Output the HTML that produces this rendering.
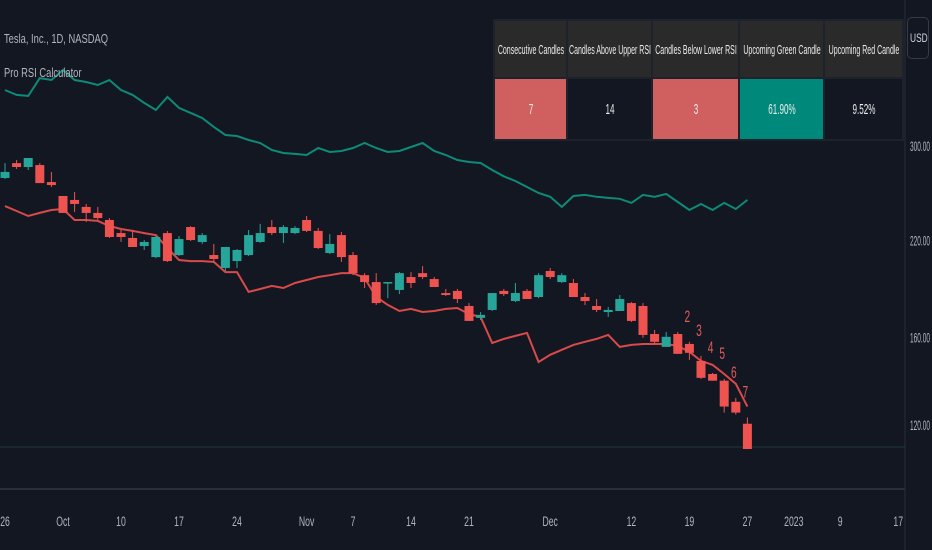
<!DOCTYPE html>
<html><head><meta charset="utf-8">
<style>
html,body{margin:0;padding:0;background:#131722;width:932px;height:550px;overflow:hidden;font-family:"Liberation Sans",sans-serif;}
#wrap{position:relative;width:932px;height:550px;overflow:hidden;}
svg{position:absolute;left:0;top:0;}
.nar{display:inline-block;transform:scaleX(0.72);transform-origin:left center;white-space:nowrap;}
.legend{position:absolute;left:4px;color:#b2b5be;font-size:13px;}
table{position:absolute;left:493px;top:19px;border-collapse:collapse;width:409px;height:122px;table-layout:fixed;}
td{border:2px solid #1e222d;color:#ececec;font-size:13px;text-align:center;padding:0;overflow:hidden;white-space:nowrap;}
td span{display:block;width:200%;margin-left:-50%;transform:scaleX(0.54);transform-origin:center center;}
.hd td{background:#2a2a2a;height:56px;}
#usd{position:absolute;left:907px;top:17px;width:20px;height:40px;border:1px solid #363a45;border-radius:5px;color:#d1d4dc;font-size:12px;}
#usd span{position:absolute;left:2px;top:13px;transform:scaleX(0.7);transform-origin:left top;}
</style></head><body>
<div id="wrap">
<svg id="chart" width="932" height="550"></svg>
<div class="legend" style="top:31px"><span class="nar">Tesla, Inc., 1D, NASDAQ</span></div>
<div class="legend" style="top:65px"><span class="nar">Pro RSI Calculator</span></div>
<table>
<colgroup><col style="width:73px"><col style="width:85px"><col style="width:87px"><col style="width:85px"><col style="width:79px"></colgroup>
<tr class="hd">
<td><span>Consecutive Candles</span></td>
<td><span>Candles Above Upper RSI</span></td>
<td><span>Candles Below Lower RSI</span></td>
<td><span>Upcoming Green Candle</span></td>
<td><span>Upcoming Red Candle</span></td>
</tr>
<tr>
<td style="background:#d06060"><span style="font-size:15px">7</span></td>
<td style="background:#131722"><span style="font-size:15px">14</span></td>
<td style="background:#d06060"><span style="font-size:15px">3</span></td>
<td style="background:#00897b"><span style="font-size:15px">61.90%</span></td>
<td style="background:#131722"><span style="font-size:15px">9.52%</span></td>
</tr>
</table>
<div id="usd"><span>USD</span></div>
</div>
<script>
const opens=[270.1,283.6,280,281.8,266.5,254.6,251.3,245.6,240.8,235.3,225.4,221.8,216,208.3,225.4,209.7,229.9,218.9,209.7,201,205.6,209.7,218.9,229.9,225.4,225.4,235.3,227,211.1,223.9,209.7,196.3,191.9,191.3,187,195.1,197.6,193.8,185.1,186.4,177.4,170.6,175.1,186.4,180.3,186.4,182.7,199,191.9,191.3,182.7,177.4,173.9,174.5,179.1,177.4,161.8,155.1,161.8,156.6,148.1,141.9,138.8,129.5,120.5];
const highs=[283.6,286.5,288.4,283.6,275.5,254.6,258,248,245.6,236.8,227.7,227.7,220.3,223.2,226.9,223.2,230.6,225.4,217.5,215.3,213.9,227.7,232.3,235.3,231.4,230.6,238.4,229.2,224.6,226.2,211.8,197.6,197.6,191.9,198.3,198.3,202.2,195.1,187.6,187.6,179.1,173.9,185.1,187.6,191.3,187.6,197.6,201,197.6,193.8,185.1,181.5,176.8,183.9,179.7,179.1,164,162.9,162.9,157.7,150.6,142.4,139.6,131.2,123];
const lows=[269.2,278.2,277.3,265.6,262.2,240.8,241.6,233.8,235.3,221.8,219,215.3,213.2,207.6,205,209,219.6,217.5,204.3,199,201,209,218.2,223.9,218.2,224.6,226.2,213.9,210.4,205,196.3,188.2,178,182,184.5,188.2,193.8,188.8,183.3,179.1,168.9,169.4,174.5,183.3,179.7,181.5,182,193.8,191.3,182.7,178,173.9,171.1,174.5,168.3,159.8,156.6,155.1,151.6,148.6,139.6,138.8,125,124.2,110.9];
const closes=[275.5,280,288.4,265.6,263.9,240.8,248,240.8,236.8,222.5,222.5,215.3,218.9,222.5,205.6,221,220.3,223.9,207,215.3,213.2,223.9,225.4,225.4,229.9,229.2,227,214.6,217.5,208.3,197.6,191.9,179.1,191.9,197.6,191.3,195.1,188.8,183.9,181.5,168.9,172.3,185.1,184.5,185.1,181.5,196.3,195.1,196.3,182.7,180.3,175.1,175.1,181.5,168.9,161.3,157.7,160.3,151.6,152.1,140.1,138.8,127.5,125,110.9];
const upperBand=[360.6,354.8,353.7,375,372.6,385,372.6,370.2,366.5,372.6,360.6,354.8,345.6,337.7,352.5,340,334.4,328.9,319.4,311,310,306,303,296.1,293.2,292.3,291.3,298,294.1,295.1,298,303,298,294.1,295.1,299,303,295.1,291.3,286.5,284.6,283.7,277.3,271.6,267.4,262.2,257.1,253.9,245.6,254.6,255.5,253.9,253,252.2,248.9,255.5,253.9,256.3,249.6,243.1,248,243.1,248.9,243.9,251.3];
const lowerBand=[246.3,242.3,238.4,240.8,243.1,243.9,235.3,235.3,234.6,230.7,228.4,227,225.4,223.9,214.6,206.3,205.6,205.6,205,198.3,198.3,185.8,187.6,189.5,188.2,191.3,193.2,195.1,196.3,197.6,197.6,194.5,182.7,178,174.5,175.7,173.9,174.5,175.7,176.2,172.8,171.1,157.1,159.2,160.8,162.4,147.6,151.1,153.6,156.1,157.7,159.2,161.3,155.1,156.1,156.6,156.6,156.6,155.6,152.6,148.1,146.2,141.9,137.4,127.5];
const yTicks=[300,220,160,120];
const xTickLabels=["26","Oct","10","17","24","Nov","7","14","21","Dec","12","19","27","2023","9","17"];
const xTickIdx=[0,5,10,15,20,26,30,35,40,47,54,59,64,68,72,77];
const countLabels=["2","3","4","5","6","7"];
const countIdx=[59,60,61,62,63,64];

const NS="http://www.w3.org/2000/svg";
const svg=document.getElementById('chart');
function xs(i){return 5+11.6*i;}
function ys(p){return 146+Math.log(300/p)*304.5;}
function mk(tag,attrs,parent){const e=document.createElementNS(NS,tag);for(const k in attrs)e.setAttribute(k,attrs[k]);(parent||svg).appendChild(e);return e;}

let l=mk('line',{x1:0,y1:489,x2:905,y2:489,stroke:'#2a2e39','stroke-width':2});


l=mk('line',{x1:905,y1:0,x2:905,y2:550,stroke:'#2a2e39','stroke-width':1});


l=mk('line',{x1:0,y1:447,x2:905,y2:447,stroke:'#1d3a3a','stroke-width':1});



yTicks.forEach(v=>{
  const t=mk('text',{x:910,y:ys(v)+5,fill:'#b2b5be','font-size':14,'font-family':'Liberation Sans, sans-serif',textLength:20,lengthAdjust:'spacingAndGlyphs'});
  t.textContent=v.toFixed(2);
  
  
});
xTickLabels.forEach((s,k)=>{
  const x=xs(xTickIdx[k]);
  const t=mk('text',{x:x,y:526,fill:'#b2b5be','font-size':14,'text-anchor':'middle','font-family':'Liberation Sans, sans-serif'});
  t.textContent=s;
  t.setAttribute('transform','translate('+x+' 0) scale(0.62 1) translate('+(-x)+' 0)');
  
  
});

function path(arr){return arr.map((v,i)=>(i?'L':'M')+xs(i).toFixed(1)+' '+ys(v).toFixed(1)).join(' ');}
let p=mk('path',{d:path(upperBand),fill:'none',stroke:'#0e8a78','stroke-width':2});


p=mk('path',{d:path(lowerBand),fill:'none',stroke:'#d94a4a','stroke-width':2});



opens.forEach((o,i)=>{
  const c=closes[i],up=c>=o,col=up?'#26a69a':'#ef5350',x=xs(i);
  const w=mk('line',{x1:x,x2:x,y1:ys(highs[i]),y2:ys(lows[i]),stroke:col,'stroke-width':1});
  
  
  const top=ys(Math.max(o,c)),bot=ys(Math.min(o,c));
  const r=mk('rect',{x:x-4.5,y:top,width:9,height:Math.max(1.5,bot-top),fill:col});
  
  
});

countLabels.forEach((s,k)=>{
  const i=countIdx[k];
  const x=xs(i)-2;
  const t=mk('text',{x:x,y:ys(highs[i])-20,fill:'#e05a5a','font-size':17,'text-anchor':'middle','font-family':'Liberation Sans, sans-serif'});
  t.textContent=s;
  t.setAttribute('transform','translate('+x+' 0) scale(0.6 1) translate('+(-x)+' 0)');
  
  
});
</script>
</body></html>
